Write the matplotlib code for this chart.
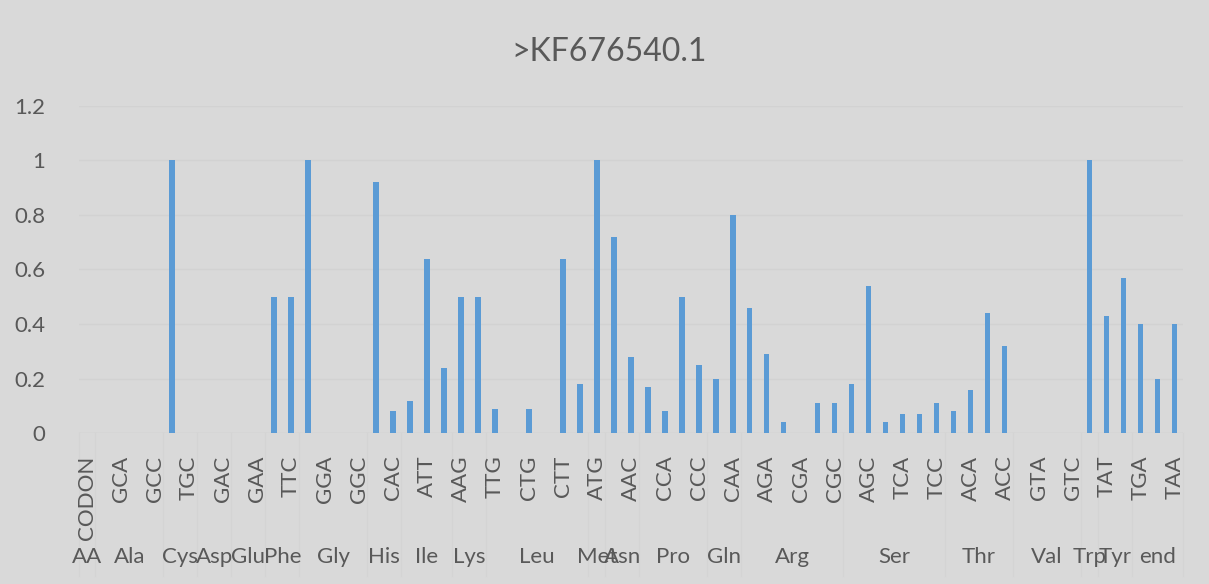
import matplotlib
matplotlib.use("Agg")
import matplotlib.pyplot as plt
import matplotlib.transforms as mtransforms

plt.rcParams['font.family'] = ['Lato', 'DejaVu Sans']

# codon labels (only every other one is shown on the axis, like in the original)
codons = ['CODON',
          'GCT', 'GCA', 'GCG', 'GCC',
          'TGT', 'TGC',
          'GAT', 'GAC',
          'GAG', 'GAA',
          'TTT', 'TTC',
          'GGT', 'GGA', 'GGG', 'GGC',
          'CAT', 'CAC',
          'ATA', 'ATT', 'ATC',
          'AAG', 'AAA',
          'TTG', 'TTA', 'CTG', 'CTA', 'CTT', 'CTC',
          'ATG',
          'AAT', 'AAC',
          'CCT', 'CCA', 'CCG', 'CCC',
          'CAG', 'CAA',
          'AGG', 'AGA', 'CGG', 'CGA', 'CGT', 'CGC',
          'AGT', 'AGC', 'TCG', 'TCA', 'TCT', 'TCC',
          'ACG', 'ACA', 'ACT', 'ACC',
          'GTG', 'GTA', 'GTT', 'GTC',
          'TGG',
          'TAT', 'TAC',
          'TGA', 'TAG', 'TAA']

# amino acid groups and how many codons each has
amino = ['AA', 'Ala', 'Cys', 'Asp', 'Glu', 'Phe', 'Gly', 'His', 'Ile', 'Lys', 'Leu',
         'Met', 'Asn', 'Pro', 'Gln', 'Arg', 'Ser', 'Thr', 'Val', 'Trp', 'Tyr', 'end']
amino_count = [1, 4, 2, 2, 2, 2, 4, 2, 3, 2, 6, 1, 2, 4, 2, 6, 6, 4, 4, 1, 2, 3]

values = [0,
          0, 0, 0, 0,
          1.0, 0,
          0, 0,
          0, 0,
          0.5, 0.5,
          1.0, 0, 0, 0,
          0.92, 0.08,
          0.12, 0.64, 0.24,
          0.5, 0.5,
          0.09, 0, 0.09, 0, 0.64, 0.18,
          1.0,
          0.72, 0.28,
          0.17, 0.08, 0.5, 0.25,
          0.2, 0.8,
          0.46, 0.29, 0.04, 0, 0.11, 0.11,
          0.18, 0.54, 0.04, 0.07, 0.07, 0.11,
          0.08, 0.16, 0.44, 0.32,
          0, 0, 0, 0,
          1.0,
          0.43, 0.57,
          0.4, 0.2, 0.4]

bg = '#d9d9d9'
txt = '#595959'
W, H = 1209, 584

fig = plt.figure(figsize=(W / 100, H / 100), dpi=100, facecolor=bg)
ax = fig.add_axes([78.5 / W, 1 - 433.3 / H, (1183 - 78.5) / W, (433.3 - 105.7) / H])
ax.set_facecolor(bg)

x = list(range(len(codons)))
ax.bar(x, values, width=0.33, color='#5b9bd5', zorder=3)

ax.set_xlim(-0.5, len(codons) - 0.5)
ax.set_ylim(0, 1.2)
ax.set_yticks([0, 0.2, 0.4, 0.6, 0.8, 1.0, 1.2])
ax.set_yticklabels(['0', '0.2', '0.4', '0.6', '0.8', '1', '1.2'])
ax.yaxis.grid(True, color='#d2d2d2', linewidth=1)
ax.set_axisbelow(True)
for s in ax.spines.values():
    s.set_visible(False)
ax.tick_params(axis='y', length=0, pad=24, labelsize=16, labelcolor=txt)

ax.set_xticks(x[::2])
ax.set_xticklabels(codons[::2], rotation=90, va='top', ha='center')
ax.tick_params(axis='x', length=0, pad=16, labelsize=16, labelcolor=txt)

# axis line and group separators / amino acid labels
ax.axhline(0, color='#d2d2d2', linewidth=1, zorder=2)
trans = mtransforms.blended_transform_factory(ax.transData, fig.transFigure)
start = 0
ax.plot([-0.5, -0.5], [1 - 433 / H, 1 - 576 / H], transform=trans,
        color='#d4d4d4', linewidth=1, clip_on=False, zorder=0)
for name, n in zip(amino, amino_count):
    end = start + n
    ax.plot([end - 0.5, end - 0.5], [1 - 433 / H, 1 - 576 / H], transform=trans,
            color='#d4d4d4', linewidth=1, clip_on=False, zorder=0)
    ax.text((start + end - 1) / 2, 1 - 557 / H, name, transform=trans,
            ha='center', va='center', fontsize=16, color=txt)
    start = end

fig.text(609 / W, 1 - 52 / H, '>KF676540.1', ha='center', va='center',
         fontsize=23, color=txt)

fig.savefig('out.png', dpi=100, facecolor=bg)
